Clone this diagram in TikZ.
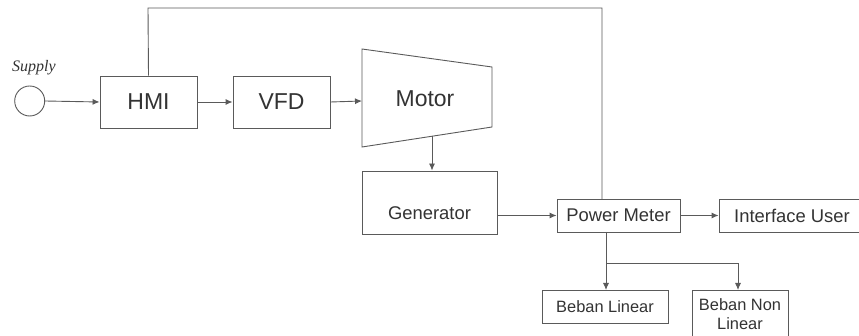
\documentclass[tikz,border=0pt]{standalone}
\usepackage{fontspec}
\setmainfont{Liberation Sans}
\newfontfamily\supplyfont{Liberation Serif}
\usetikzlibrary{arrows.meta}
\definecolor{linegray}{HTML}{5A5A5A}
\definecolor{textgray}{HTML}{333333}
\begin{document}
\begin{tikzpicture}[x=1pt,y=-1pt,
  every node/.style={text=textgray, inner sep=0pt},
  block/.style={draw=linegray, line width=0.9pt, rectangle},
  conn/.style={draw=linegray, line width=0.9pt},
  arr/.style={conn, -{Latex[length=7pt,width=6pt]}},
  bigtxt/.style={font=\fontsize{23}{26}\selectfont},
  midtxt/.style={font=\fontsize{18.4}{22}\selectfont},
  smalltxt/.style={font=\fontsize{16.4}{18}\selectfont, align=center}]
\useasboundingbox[fill=white] (0,0) rectangle (859,336);

% supply source
\node[circle, draw=linegray, line width=0.9pt, minimum size=30pt] (supply) at (29.7,101) {};
\node[font=\supplyfont\itshape\fontsize{16}{18}\selectfont] (supplylbl) at (34,68) {Supply};

% blocks
\node[block, minimum width=97pt, minimum height=52pt, bigtxt] (hmi) at (148.5,102) {HMI};
\node[block, minimum width=97pt, minimum height=52pt, bigtxt] (vfd) at (281.5,102) {VFD};

% motor drawn as a trapezoid
\draw[conn] (362,49) -- (492,67) -- (492,127) -- (362,147) -- cycle;
\node[bigtxt] (motor) at (425,99) {Motor};
\coordinate (motorin) at (362,101);
\coordinate (motorout) at (432,136.2);

\node[block, minimum width=135pt, minimum height=63pt] (gen) at (429.5,202.5) {};
\node[midtxt] (gentxt) at (429.5,213) {Generator};

\node[block, minimum width=123pt, minimum height=33pt, midtxt] (pm) at (618.5,215.5) {Power Meter};
\node[block, minimum width=146pt, minimum height=33pt, midtxt] (iu) at (792,215.5) {Interface User};

\node[block, minimum width=126pt, minimum height=33pt, smalltxt] (bl) at (605,306.5) {Beban Linear};
\draw[conn] (692,340) -- (692,290) -- (788,290) -- (788,340);
\node[smalltxt] (bnl) at (740,314) {Beban Non\\[1pt]Linear};
\coordinate (bnltop) at (738,290);

% connectors
\draw[arr] (supply.east) -- (hmi.west);
\draw[arr] (hmi.east) -- (vfd.west);
\draw[arr] (vfd.east) -- (motorin);
\draw[arr] (motorout) -- (motorout |- gen.north);
\draw[arr] (gen.east |- pm.west) -- (pm.west);
\draw[arr] (pm.east) -- (iu.west);
\draw[conn] (hmi.north) -- (148,8) -- (602,8) -- (602,199);
\coordinate (branch) at (606,263);
\draw[arr] (606,232) -- (606,290);
\draw[arr] (branch) -- (738,263) -- (bnltop);
\end{tikzpicture}
\end{document}
